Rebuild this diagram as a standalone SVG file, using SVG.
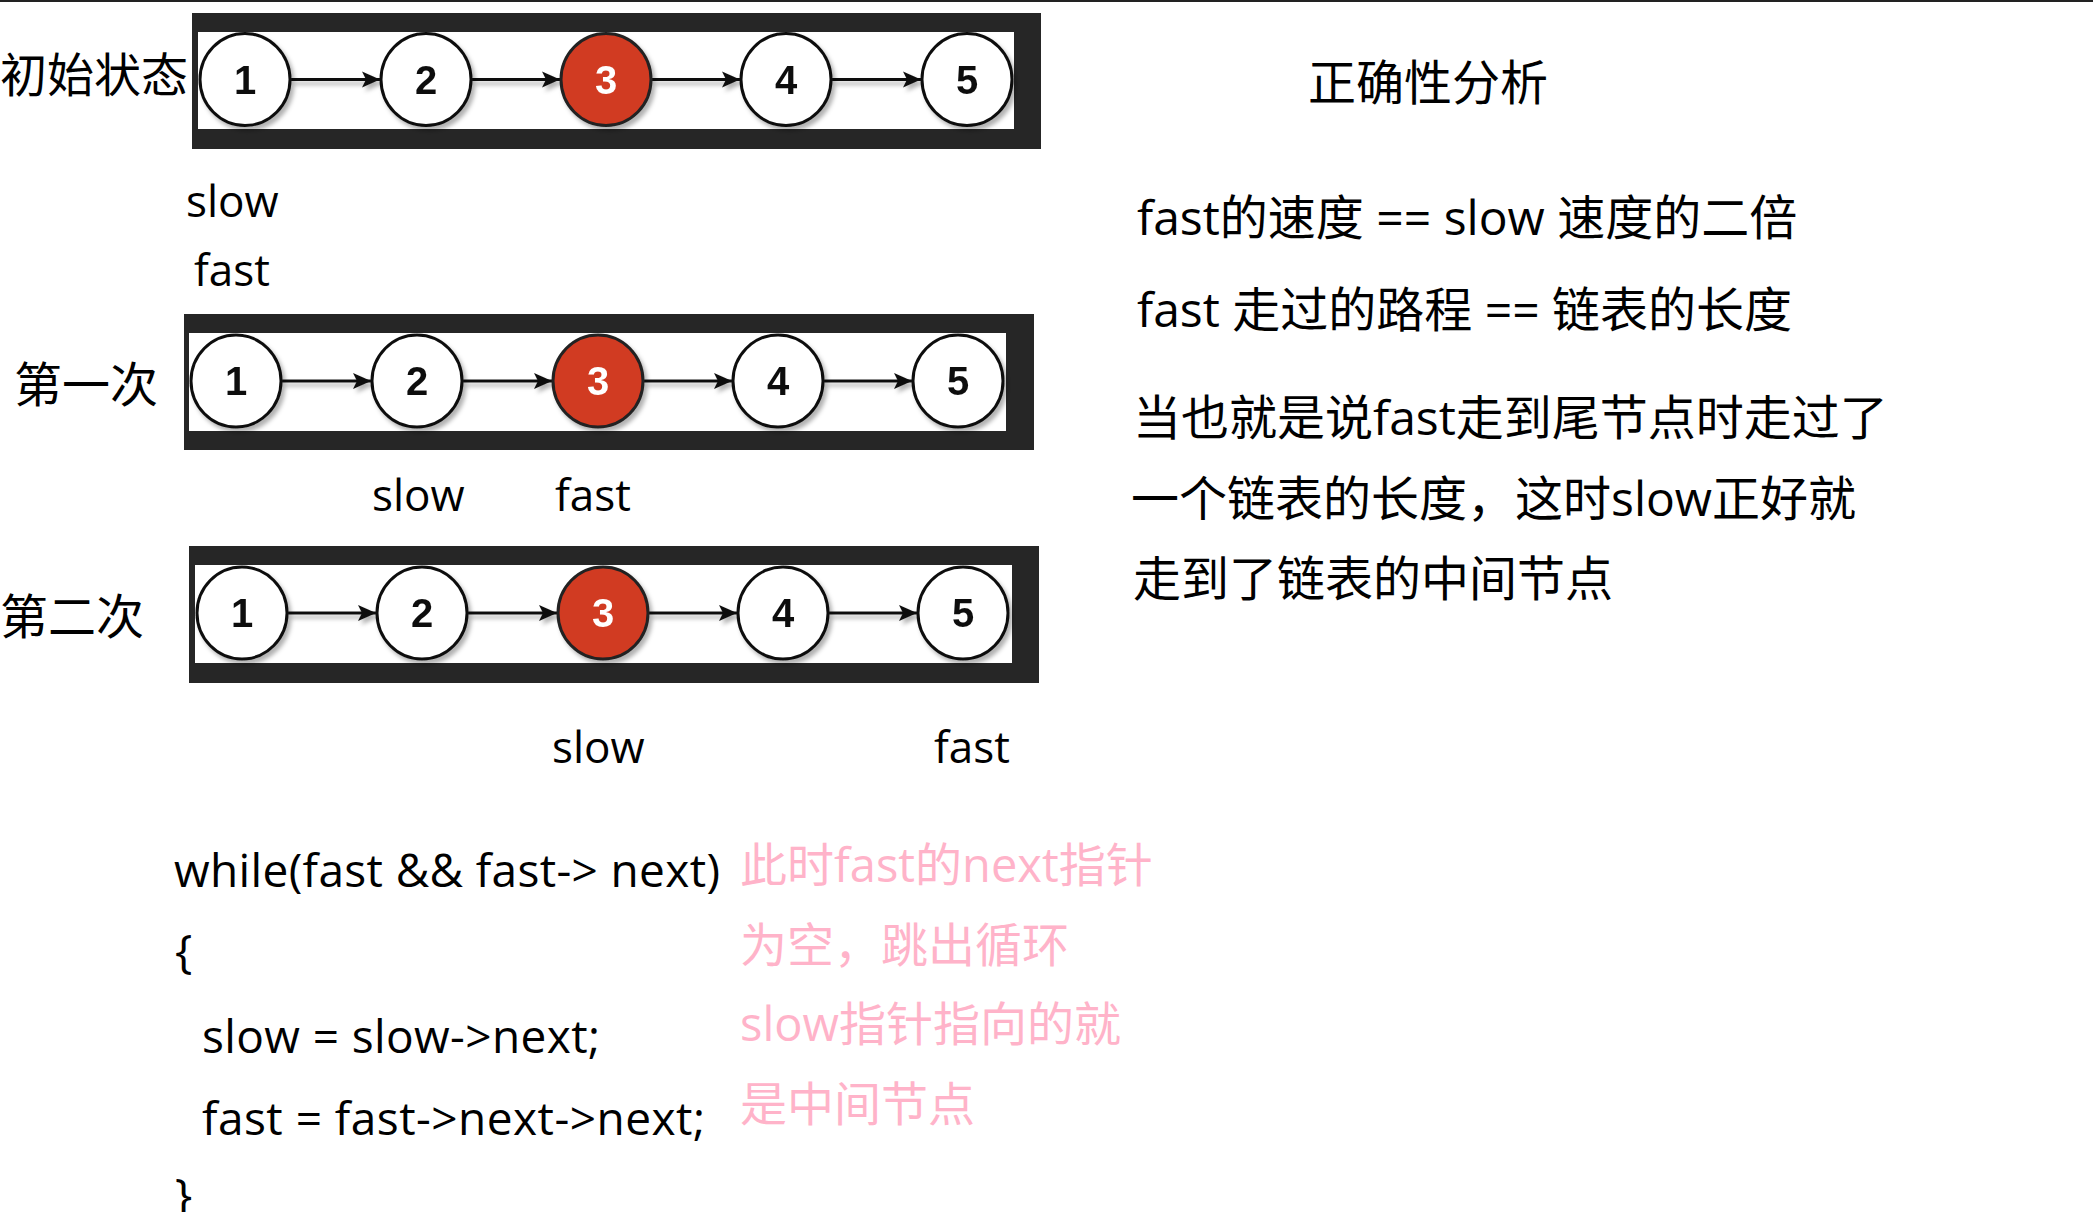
<svg xmlns="http://www.w3.org/2000/svg" width="2093" height="1212" viewBox="0 0 2093 1212">
<defs>
<style>
.t{font-family:"Open Sans","Noto Sans CJK SC",sans-serif;fill:#000}
.cjk{font-family:"Noto Sans CJK SC",sans-serif;fill:#000}
.pink{fill:#ffb3c9}
.num{font-family:"Liberation Sans",Arial,sans-serif;font-weight:bold;font-size:40px;text-anchor:middle;fill:#111}
.num.w{fill:#fff}
.node{fill:#fff;stroke:#111;stroke-width:3}
.node.red{fill:#d13a20;stroke:#222}
.edge{stroke:#111;stroke-width:3;fill:none;marker-end:url(#ah)}
.frame{fill:#262626}
.inner{fill:#fff}
</style>
<marker id="ah" markerUnits="userSpaceOnUse" markerWidth="20" markerHeight="18" refX="18" refY="9" orient="auto">
<path d="M0,1 L18,9 L0,17 L4,9 z" fill="#111"/>
</marker>
<filter id="sh" x="-20%" y="-20%" width="140%" height="140%">
<feDropShadow dx="3" dy="4" stdDeviation="2" flood-color="#000" flood-opacity="0.3"/>
</filter>
</defs>
<rect width="2093" height="1212" fill="#fff"/>
<rect x="0" y="0" width="2093" height="2" fill="#222"/>

<!-- frames -->
<g id="frames">
<rect class="frame" x="192" y="13" width="849" height="136"/>
<rect class="inner" x="198" y="32" width="816" height="97"/>
<rect class="frame" x="184" y="314" width="850" height="136"/>
<rect class="inner" x="189" y="333" width="817" height="98"/>
<rect class="frame" x="189" y="546" width="850" height="137"/>
<rect class="inner" x="195" y="565" width="817" height="98"/>
</g>

<!-- connectors -->
<g id="connectors" filter="url(#sh)">
<line class="edge" x1="291" y1="79.5" x2="380" y2="79.5"/>
<line class="edge" x1="472" y1="79.5" x2="560" y2="79.5"/>
<line class="edge" x1="652" y1="79.5" x2="740" y2="79.5"/>
<line class="edge" x1="832" y1="79.5" x2="921" y2="79.5"/>

<line class="edge" x1="282" y1="381" x2="371" y2="381"/>
<line class="edge" x1="463" y1="381" x2="552" y2="381"/>
<line class="edge" x1="644" y1="381" x2="732" y2="381"/>
<line class="edge" x1="824" y1="381" x2="912" y2="381"/>

<line class="edge" x1="288" y1="613" x2="376" y2="613"/>
<line class="edge" x1="468" y1="613" x2="557" y2="613"/>
<line class="edge" x1="649" y1="613" x2="737" y2="613"/>
<line class="edge" x1="829" y1="613" x2="917" y2="613"/>
</g>

<!-- panel 1 nodes -->
<g id="p1-n1" filter="url(#sh)"><ellipse class="node" cx="245" cy="79.5" rx="45" ry="46"/><text class="num" x="245" y="94">1</text></g>
<g id="p1-n2" filter="url(#sh)"><ellipse class="node" cx="426" cy="79.5" rx="45" ry="46"/><text class="num" x="426" y="94">2</text></g>
<g id="p1-n3" filter="url(#sh)"><ellipse class="node red" cx="606" cy="79.5" rx="45" ry="46"/><text class="num w" x="606" y="94">3</text></g>
<g id="p1-n4" filter="url(#sh)"><ellipse class="node" cx="786" cy="79.5" rx="45" ry="46"/><text class="num" x="786" y="94">4</text></g>
<g id="p1-n5" filter="url(#sh)"><ellipse class="node" cx="967" cy="79.5" rx="45" ry="46"/><text class="num" x="967" y="94">5</text></g>

<!-- panel 2 nodes -->
<g id="p2-n1" filter="url(#sh)"><ellipse class="node" cx="236" cy="381" rx="45" ry="46"/><text class="num" x="236" y="395">1</text></g>
<g id="p2-n2" filter="url(#sh)"><ellipse class="node" cx="417" cy="381" rx="45" ry="46"/><text class="num" x="417" y="395">2</text></g>
<g id="p2-n3" filter="url(#sh)"><ellipse class="node red" cx="598" cy="381" rx="45" ry="46"/><text class="num w" x="598" y="395">3</text></g>
<g id="p2-n4" filter="url(#sh)"><ellipse class="node" cx="778" cy="381" rx="45" ry="46"/><text class="num" x="778" y="395">4</text></g>
<g id="p2-n5" filter="url(#sh)"><ellipse class="node" cx="958" cy="381" rx="45" ry="46"/><text class="num" x="958" y="395">5</text></g>

<!-- panel 3 nodes -->
<g id="p3-n1" filter="url(#sh)"><ellipse class="node" cx="242" cy="613" rx="45" ry="46"/><text class="num" x="242" y="627">1</text></g>
<g id="p3-n2" filter="url(#sh)"><ellipse class="node" cx="422" cy="613" rx="45" ry="46"/><text class="num" x="422" y="627">2</text></g>
<g id="p3-n3" filter="url(#sh)"><ellipse class="node red" cx="603" cy="613" rx="45" ry="46"/><text class="num w" x="603" y="627">3</text></g>
<g id="p3-n4" filter="url(#sh)"><ellipse class="node" cx="783" cy="613" rx="45" ry="46"/><text class="num" x="783" y="627">4</text></g>
<g id="p3-n5" filter="url(#sh)"><ellipse class="node" cx="963" cy="613" rx="45" ry="46"/><text class="num" x="963" y="627">5</text></g>

<!-- left labels -->
<g id="labels-left">
<text class="cjk" x="0" y="92" font-size="47">初始状态</text>
<text class="cjk" x="14" y="402" font-size="48">第一次</text>
<text class="cjk" x="0" y="634" font-size="48">第二次</text>
</g>

<!-- pointer labels -->
<g id="pointers" font-size="44">
<text class="t" x="186" y="217">slow</text>
<text class="t" x="194" y="286">fast</text>
<text class="t" x="372" y="511">slow</text>
<text class="t" x="555" y="511">fast</text>
<text class="t" x="552" y="763">slow</text>
<text class="t" x="934" y="763">fast</text>
</g>

<!-- analysis -->
<g id="analysis" font-size="48">
<text class="cjk" x="1308" y="100">正确性分析</text>
<text class="t" x="1137" y="235">fast的速度 == slow 速度的二倍</text>
<text class="t" x="1137" y="327">fast 走过的路程 == 链表的长度</text>
<text class="t" x="1133" y="435">当也就是说fast走到尾节点时走过了</text>
<text class="t" x="1131" y="516">一个链表的长度，这时slow正好就</text>
<text class="t" x="1133" y="596">走到了链表的中间节点</text>
</g>

<!-- code -->
<g id="code" font-size="46">
<text class="t" x="174" y="887" textLength="546" lengthAdjust="spacing">while(fast &amp;&amp; fast-&gt; next)</text>
<text class="t" x="175" y="968">{</text>
<text class="t" x="202" y="1053" textLength="398" lengthAdjust="spacing">slow = slow-&gt;next;</text>
<text class="t" x="202" y="1135" textLength="503" lengthAdjust="spacing">fast = fast-&gt;next-&gt;next;</text>
<text class="t" x="175" y="1212">}</text>
</g>

<!-- pink notes -->
<g id="note" font-size="47">
<text class="t pink" x="740" y="882">此时fast的next指针</text>
<text class="t pink" x="740" y="962">为空，跳出循环</text>
<text class="t pink" x="740" y="1041">slow指针指向的就</text>
<text class="t pink" x="740" y="1121">是中间节点</text>
</g>
</svg>
